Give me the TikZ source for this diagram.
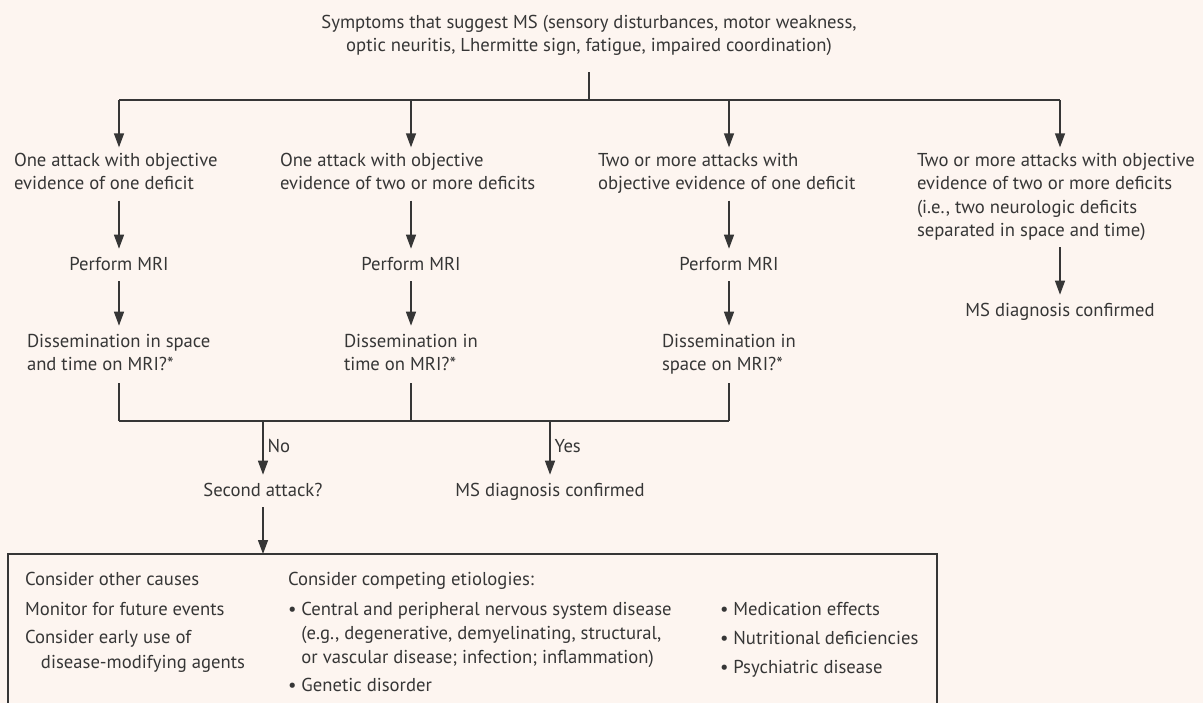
\documentclass[tikz,border=0pt]{standalone}
\usepackage{fontspec}
\setmainfont{PT Sans}
\usetikzlibrary{arrows.meta}
\definecolor{bg}{HTML}{FDF5F0}
\definecolor{ink}{HTML}{363636}
\newcommand\Sx{\strut}
\newcommand\Bx{\phantom{\textbullet\ }}
\begin{document}
\begin{tikzpicture}[x=0.75pt,y=-0.75pt,
  txt/.style={inner sep=0pt, outer sep=0pt, text=ink, font=\fontsize{14}{17.5}\selectfont, align=left},
  ctxt/.style={txt, align=center},
  lbl/.style={inner sep=0pt, outer sep=0pt, text=ink, font=\fontsize{14}{17.5}\selectfont, anchor=west, xshift=3.5pt},
  link/.style={draw=ink, line width=1pt},
  arr/.style={link, -{Triangle[length=10.5pt,width=7.5pt]}, shorten <=3pt, shorten >=4pt},
]
\fill[bg] (0,0) rectangle (1203,703);
\useasboundingbox (0,0) rectangle (1203,703);
\clip (0,0) rectangle (1203,703);

% top
\node[ctxt, anchor=north] (top) at (589,12) {\Sx Symptoms that suggest MS (sensory disturbances, motor weakness,\\\Sx optic neuritis, Lhermitte sign, fatigue, impaired coordination)};
\coordinate (jt) at (589,100);
\coordinate (j1) at (119,100);
\coordinate (j2) at (411,100);
\coordinate (j3) at (729,100);
\coordinate (j4) at (1060,100);
\draw[link, shorten <=10pt] (top.south -| jt) -- (jt);
\draw[link] (j1) -- (j4);

% columns
\node[txt, anchor=north west] (c1) at (14,150) {\Sx One attack with objective\\\Sx evidence of one deficit};
\node[txt, anchor=north west] (c2) at (280,150) {\Sx One attack with objective\\\Sx evidence of two or more deficits};
\node[txt, anchor=north west] (c3) at (598,150) {\Sx Two or more attacks with\\\Sx objective evidence of one deficit};
\node[txt, anchor=north west] (c4) at (917,150) {\Sx Two or more attacks with objective\\\Sx evidence of two or more deficits\\\Sx (i.e., two neurologic deficits\\\Sx separated in space and time)};

\draw[arr, shorten <=0pt, shorten >=2pt] (j1) -- (j1 |- c1.north);
\draw[arr, shorten <=0pt, shorten >=2pt] (j2) -- (j2 |- c2.north);
\draw[arr, shorten <=0pt, shorten >=2pt] (j3) -- (j3 |- c3.north);
\draw[arr, shorten <=0pt, shorten >=2pt] (j4) -- (j4 |- c4.north);

% MRI
\node[ctxt, anchor=north] (m1) at (119,254) {\Sx Perform MRI};
\node[ctxt, anchor=north] (m2) at (411,254) {\Sx Perform MRI};
\node[ctxt, anchor=north] (m3) at (729,254) {\Sx Perform MRI};
\draw[arr] (c1.south -| m1) -- (m1.north);
\draw[arr] (c2.south -| m2) -- (m2.north);
\draw[arr] (c3.south -| m3) -- (m3.north);

\node[ctxt, anchor=north] (ms4) at (1060,300) {\Sx MS diagnosis confirmed};
\draw[arr] (c4.south -| ms4) -- (ms4.north);

% dissemination
\node[txt, anchor=north west] (d1) at (27,331) {\Sx Dissemination in space\\\Sx and time on MRI?*};
\node[txt, anchor=north west] (d2) at (344,331) {\Sx Dissemination in\\\Sx time on MRI?*};
\node[txt, anchor=north west] (d3) at (662,331) {\Sx Dissemination in\\\Sx space on MRI?*};
\draw[arr] (m1.south) -- (m1.south |- d1.north);
\draw[arr] (m2.south) -- (m2.south |- d2.north);
\draw[arr] (m3.south) -- (m3.south |- d3.north);

\coordinate (b1) at (119,421);
\coordinate (b2) at (411,421);
\coordinate (b3) at (729,421);
\draw[link, shorten <=4pt] (d1.south -| b1) -- (b1);
\draw[link, shorten <=4pt] (d2.south -| b2) -- (b2);
\draw[link, shorten <=4pt] (d3.south -| b3) -- (b3);
\draw[link] (b1) -- (b3);

\coordinate (bno) at (263,421);
\coordinate (byes) at (550,421);
\node[ctxt, anchor=north] (sec) at (263,480) {\Sx Second attack?};
\node[ctxt, anchor=north] (ms) at (550,480) {\Sx MS diagnosis confirmed};
\draw[arr, shorten <=0pt] (bno) -- (sec.north) node[lbl, pos=0.42] {No};
\draw[arr, shorten <=0pt] (byes) -- (ms.north) node[lbl, pos=0.42] {Yes};

% bottom box
\node[draw=ink, line width=1pt, anchor=north west, minimum width=696.75pt, minimum height=120pt, inner sep=0pt, outer sep=0pt] (box) at (8,554) {};
\draw[arr, shorten >=0pt] (sec.south) -- (sec.south |- box.north);

\node[txt, anchor=north west] (o1) at (25,569) {\Sx Consider other causes};
\node[txt, anchor=north west] (o2) at (25,599) {\Sx Monitor for future events};
\node[txt, anchor=north west] (o3) at (25,627) {\Sx Consider early use of\\[1.25pt]\Sx\hspace*{12pt}disease-modifying agents};

\node[txt, anchor=north west] (e0) at (288,569) {\Sx Consider competing etiologies:};
\node[txt, anchor=north west] (e1) at (288,599) {\Sx\textbullet\ Central and peripheral nervous system disease\\[0.5pt]\Sx\Bx(e.g., degenerative, demyelinating, structural,\\[0.5pt]\Sx\Bx or vascular disease; infection; inflammation)};
\node[txt, anchor=north west] (e2) at (288,675) {\Sx\textbullet\ Genetic disorder};

\node[txt, anchor=north west] (r1) at (720,599) {\Sx\textbullet\ Medication effects};
\node[txt, anchor=north west] (r2) at (720,628) {\Sx\textbullet\ Nutritional deficiencies};
\node[txt, anchor=north west] (r3) at (720,657) {\Sx\textbullet\ Psychiatric disease};
\end{tikzpicture}
\end{document}
